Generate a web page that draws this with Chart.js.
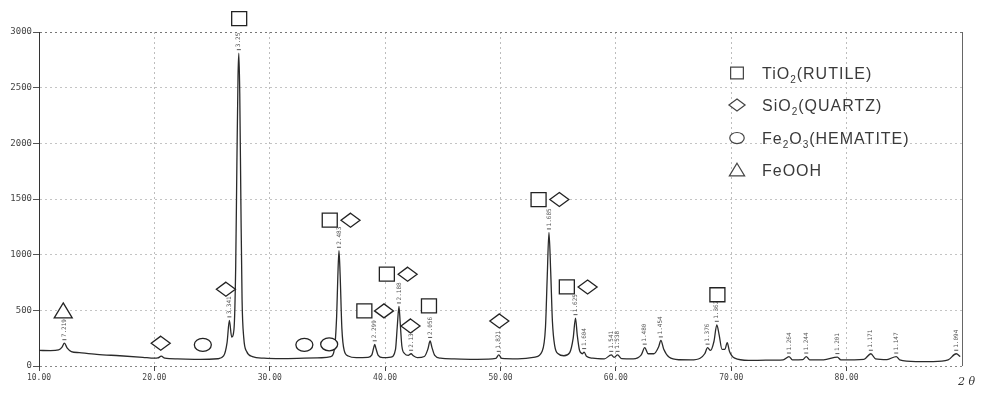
<!DOCTYPE html>
<html><head><meta charset="utf-8">
<script src="https://cdn.jsdelivr.net/npm/chart.js@4/dist/chart.umd.min.js"></script>
<style>html,body{margin:0;padding:0;background:#fff}#wrap{width:985px;height:396px;position:relative}</style>
</head><body><div id="wrap"><canvas id="c" width="985" height="396"></canvas></div>
<script>
// ---- data (2θ in degrees, intensity in counts) ----
const twoTheta = [
  10.0, 11.0, 11.7, 12.0, 12.2, 12.45, 12.8, 13.5, 15.0, 17.0,
  19.0, 20.0, 20.3, 20.6, 20.9, 22.0, 24.0, 25.5, 26.0, 26.3,
  26.5, 26.7, 26.9, 27.05, 27.15, 27.25, 27.32, 27.4, 27.5, 27.6,
  27.75, 28.0, 28.5, 29.5, 31.0, 33.0, 34.5, 35.3, 35.6, 35.8,
  35.9, 36.0, 36.1, 36.25, 36.45, 36.8, 37.5, 38.5, 38.85, 39.0,
  39.1, 39.2, 39.4, 39.8, 40.5, 40.9, 41.05, 41.2, 41.3, 41.45,
  41.7, 42.0, 42.25, 42.45, 42.8, 43.4, 43.7, 43.9, 44.05, 44.3,
  44.8, 46.0, 48.0, 49.6, 49.85, 50.1, 51.5, 53.0, 53.6, 53.9,
  54.05, 54.2, 54.35, 54.5, 54.7, 55.0, 55.5, 56.0, 56.3, 56.5,
  56.65, 56.85, 57.1, 57.25, 57.45, 58.0, 59.0, 59.6, 59.85, 60.15,
  60.5, 61.5, 62.2, 62.5, 62.8, 63.3, 63.7, 63.9, 64.15, 64.6,
  65.5, 66.5, 67.3, 67.7, 67.95, 68.2, 68.5, 68.75, 68.95, 69.2,
  69.45, 69.65, 69.85, 70.3, 71.5, 73.0, 74.5, 75.0, 75.3, 76.2,
  76.5, 76.8, 78.0, 79.2, 79.5, 81.5, 82.1, 82.5, 83.5, 84.3,
  84.6, 86.0, 87.5, 88.8, 89.5, 89.85
];
const counts = [
  140, 138, 145, 170, 205, 160, 130, 120, 105, 92,
  78, 70, 72, 88, 70, 64, 60, 65, 90, 210,
  410, 260, 330, 900, 1800, 2600, 2810, 2450, 1450, 600,
  250, 130, 85, 70, 66, 70, 74, 85, 150, 450,
  800, 1035, 820, 340, 140, 90, 75, 78, 100, 160,
  195, 160, 95, 75, 80, 150, 350, 535, 400, 180,
  110, 95, 110, 92, 75, 85, 150, 225, 170, 95,
  70, 64, 60, 68, 100, 68, 64, 80, 130, 350,
  800, 1200, 850, 400, 180, 110, 92, 120, 250, 430,
  280, 140, 110, 125, 88, 70, 64, 100, 78, 100,
  66, 64, 100, 165, 110, 110, 170, 230, 150, 80,
  56, 55, 70, 110, 165, 140, 220, 370, 280, 150,
  150, 210, 130, 70, 50, 52, 55, 85, 55, 58,
  85, 55, 55, 80, 55, 60, 110, 65, 58, 85,
  55, 40, 40, 55, 110, 85
];
const xTickValues = [10, 20, 30, 40, 50, 60, 70, 80];
const yTickValues = [0, 500, 1000, 1500, 2000, 2500, 3000];

// d-spacing labels at peak tops
const peakTheta  = [12.2, 26.5, 27.32, 36.0, 39.1, 41.2, 42.25, 43.9, 49.85, 54.2, 56.5, 57.25, 59.6, 60.15, 62.5, 63.9, 67.95, 68.75, 75.0, 76.5, 79.2, 82.1, 84.3, 89.5];
const peakCounts = [205, 410, 2810, 1035, 195, 535, 110, 225, 100, 1200, 430, 125, 100, 100, 165, 230, 165, 370, 85, 85, 80, 110, 85, 110];
const peakDLabels = ['7.219','3.341','3.25','2.483','2.299','2.188','2.135','2.056','1.821','1.685','1.625','1.604','1.541','1.538','1.480','1.454','1.376','1.362','1.264','1.244','1.201','1.171','1.147','1.094'];

// phase markers
const markerTheta  = [12.1, 20.55, 24.2, 26.2, 27.35, 33.0, 35.15, 35.2, 37.0, 38.2, 39.9, 40.15, 41.95, 42.2, 43.8, 49.9, 53.3, 55.1, 55.75, 57.55, 68.8];
const markerCounts = [495, 205, 190, 690, 3120, 190, 195, 1310, 1310, 495, 495, 825, 825, 360, 540, 405, 1495, 1495, 710, 710, 640];
const markerShapes = ['triangle','diamond','circle','diamond','square','circle','circle','square','diamond','square','diamond','square','diamond','diamond','square','diamond','square','diamond','square','diamond','square'];

// legend
const legendShapes = ['square', 'diamond', 'circle', 'triangle'];
const legendLabels = [
  [['TiO', 0], ['2', 1], ['(RUTILE)', 0]],
  [['SiO', 0], ['2', 1], ['(QUARTZ)', 0]],
  [['Fe', 0], ['2', 1], ['O', 0], ['3', 1], ['(HEMATITE)', 0]],
  [['FeOOH', 0]]
];
const axisTitle = '2 θ';

function drawShape(ctx, kind, cx, cy, s) {
  ctx.beginPath();
  if (kind === 'square') {
    ctx.rect(cx - 7.5 * s, cy - 7 * s, 15 * s, 14 * s);
  } else if (kind === 'diamond') {
    ctx.moveTo(cx, cy - 7 * s); ctx.lineTo(cx + 9.5 * s, cy); ctx.lineTo(cx, cy + 7 * s); ctx.lineTo(cx - 9.5 * s, cy); ctx.closePath();
  } else if (kind === 'circle') {
    ctx.ellipse(cx, cy, 8.5 * s, 6.5 * s, 0, 0, Math.PI * 2);
  } else if (kind === 'triangle') {
    ctx.moveTo(cx, cy - 8 * s); ctx.lineTo(cx + 9 * s, cy + 7 * s); ctx.lineTo(cx - 9 * s, cy + 7 * s); ctx.closePath();
  }
  ctx.fillStyle = '#fff'; ctx.fill();
  ctx.stroke();
}

const annot = {
  id: 'annot',
  afterDatasetsDraw(chart) {
    const { ctx, chartArea: a, scales: { x, y } } = chart;
    ctx.save();
    // right frame
    ctx.strokeStyle = '#666'; ctx.lineWidth = 1;
    ctx.beginPath(); ctx.moveTo(Math.round(a.right) + 0.5, a.top); ctx.lineTo(Math.round(a.right) + 0.5, a.bottom); ctx.stroke();

    // d-spacing labels
    ctx.fillStyle = '#555'; ctx.strokeStyle = '#555'; ctx.lineWidth = 1;
    ctx.font = '6px "DejaVu Sans Mono"';
    peakTheta.forEach((t, i) => {
      const px = x.getPixelForValue(t), py = y.getPixelForValue(peakCounts[i]);
      ctx.save();
      ctx.translate(px, py - 6);
      ctx.rotate(-Math.PI / 2);
      ctx.textAlign = 'left'; ctx.textBaseline = 'middle';
      ctx.fillText(peakDLabels[i], 0, 0);
      ctx.restore();
      ctx.beginPath(); ctx.moveTo(px - 2, py - 3.5); ctx.lineTo(px + 2, py - 3.5); ctx.stroke();
    });

    // phase markers
    ctx.strokeStyle = '#222'; ctx.lineWidth = 1.3;
    markerTheta.forEach((t, i) => {
      drawShape(ctx, markerShapes[i], x.getPixelForValue(t), y.getPixelForValue(markerCounts[i]), 1);
    });

    // legend
    const rows = [73, 105, 138, 170];
    legendShapes.forEach((k, i) => {
      ctx.strokeStyle = '#444'; ctx.lineWidth = 1.2;
      drawShape(ctx, k, 737, rows[i], 0.85);
      let tx = 762;
      const base = rows[i] + 6;
      ctx.fillStyle = '#3a3a3a';
      ctx.textAlign = 'left'; ctx.textBaseline = 'alphabetic';
      legendLabels[i].forEach(([txt, sub]) => {
        ctx.font = sub ? '10px "Liberation Sans"' : '16px "Liberation Sans"';
        ctx.letterSpacing = '1px';
        ctx.fillText(txt, tx, base + (sub ? 4 : 0));
        tx += ctx.measureText(txt).width;
      });
      ctx.letterSpacing = '0px';
    });

    // axis title
    ctx.fillStyle = '#333';
    ctx.font = 'italic 11px "DejaVu Serif"';
    ctx.textAlign = 'left'; ctx.textBaseline = 'alphabetic';
    ctx.fillText(axisTitle, 958, 385);
    ctx.restore();
  }
};

const points = twoTheta.map((t, i) => ({ x: t, y: counts[i] }));

new Chart(document.getElementById('c'), {
  type: 'line',
  data: {
    datasets: [{
      data: points,
      borderColor: '#2a2a2a',
      borderWidth: 1.3,
      pointRadius: 0,
      fill: false,
      cubicInterpolationMode: 'monotone'
    }]
  },
  options: {
    responsive: false,
    animation: false,
    devicePixelRatio: 1,
    layout: { padding: { left: 0, right: 23, top: 32, bottom: 0 } },
    plugins: { legend: { display: false }, tooltip: { enabled: false } },
    scales: {
      x: {
        type: 'linear', min: 10, max: 90,
        afterBuildTicks: s => { s.ticks = xTickValues.map(v => ({ value: v })); },
        afterFit: s => { s.height = 30; },
        ticks: {
          callback: v => Number(v).toFixed(2),
          font: { family: 'DejaVu Sans Mono', size: 8 },
          color: '#444', maxRotation: 0, autoSkip: false, padding: 2
        },
        grid: {
          color: c => (c.tick && c.tick.value === 10) ? 'rgba(0,0,0,0)' : '#bdbdbd',
          tickColor: '#444', tickLength: 5, lineWidth: 1
        },
        border: { display: false, dash: [2, 3] }
      },
      y: {
        min: 0, max: 3000,
        afterBuildTicks: s => { s.ticks = yTickValues.map(v => ({ value: v })); },
        afterFit: s => { s.width = 39; },
        ticks: {
          callback: v => String(v),
          font: { family: 'DejaVu Sans Mono', size: 9 },
          color: '#444', padding: 1, autoSkip: false
        },
        grid: {
          color: c => {
            const v = c.tick ? c.tick.value : null;
            if (v === 0) return '#888';
            if (v === 3000) return '#777';
            return '#c4c4c4';
          },
          tickColor: '#555', tickLength: 6, lineWidth: 1
        },
        border: { display: true, color: '#333', width: 1, dash: [2, 3] }
      }
    }
  },
  plugins: [annot]
});
</script>
</body></html>
